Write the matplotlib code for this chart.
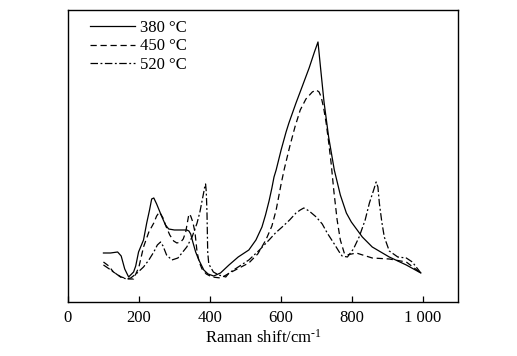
import matplotlib
matplotlib.use("Agg")
import matplotlib.pyplot as plt

plt.rcParams['font.family'] = ['Liberation Serif', 'DejaVu Serif']
plt.rcParams['mathtext.fontset'] = 'custom'
plt.rcParams['mathtext.rm'] = 'Liberation Serif'
plt.rcParams['mathtext.it'] = 'Liberation Serif:italic'

# Raman shift (cm^-1) and intensity (a.u.)
x380 = [100, 120, 140, 150, 160, 171, 185, 191, 199, 213, 222, 230, 236, 242, 250, 265, 275, 284,
        300, 321, 335, 341, 346, 352, 360, 369, 383, 395, 411, 430, 454, 480, 510, 530, 547, 557,
        567, 575, 581, 587, 601, 615, 623, 643, 660, 680, 695, 705, 712, 722, 735, 751, 768, 785,
        799, 830, 858, 906, 954, 995]
y380 = [49, 49, 50, 46, 33, 25, 30, 36, 50, 62, 79, 92, 103, 104, 98, 85, 77, 73, 72, 72, 72, 71,
        68, 60, 50, 42, 32, 28, 26, 29, 37, 45, 52, 62, 75, 87, 101, 114, 125, 132, 152, 170, 179,
        199, 215, 234, 250, 260, 235, 200, 165, 132, 107, 89, 80, 65, 55, 45, 37, 29]

x450 = [100, 115, 128, 150, 171, 185, 200, 213, 228, 242, 250, 258, 268, 276, 287, 298, 307, 318,
        325, 332, 341, 346, 352, 358, 364, 370, 378, 390, 406, 431, 461, 510, 535, 558, 575, 587,
        601, 610, 625, 640, 655, 671, 689, 700, 708, 714, 721, 728, 735, 742, 750, 759, 768, 779,
        785, 800, 813, 858, 906, 954, 995]
y450 = [40, 36, 30, 25, 23, 23, 35, 55, 70, 79, 86, 90, 84, 76, 67, 61, 59, 60, 63, 70, 88, 86,
        80, 70, 50, 40, 33, 28, 25, 24, 30, 39, 48, 62, 76, 92, 118, 133, 155, 175, 192, 203, 210,
        212, 210, 205, 194, 179, 160, 139, 110, 82, 62, 49, 47, 48, 49, 44, 43, 40, 29]

x520 = [100, 125, 148, 165, 177, 195, 213, 228, 242, 252, 261, 268, 278, 293, 310, 335, 350, 364,
        372, 378, 383, 386, 388, 390, 392, 394, 397, 410, 425, 445, 454, 480, 510, 540, 567, 585,
        604, 625, 643, 655, 665, 680, 700, 717, 731, 751, 765, 773, 788, 805, 821, 838, 850, 862,
        869, 874, 878, 885, 892, 906, 930, 954, 971, 995]
y520 = [37, 31, 25, 23, 24, 29, 35, 42, 50, 57, 60, 56, 47, 42, 44, 55, 65, 79, 90, 101, 110, 116,
        118, 110, 89, 50, 38, 30, 27, 25, 29, 35, 42, 52, 62, 69, 75, 82, 89, 92, 94, 91, 85, 78,
        69, 58, 50, 46, 45, 53, 65, 82, 99, 112, 120, 115, 99, 80, 65, 51, 45, 44, 40, 29]

labels = ['380 \u00b0C', '450 \u00b0C', '520 \u00b0C']
xticks = [0, 200, 400, 600, 800, 1000]
xticklabels = ['0', '200', '400', '600', '800', '1 000']

fig = plt.figure(figsize=(5.17, 3.56), dpi=100)
ax = fig.add_axes([0.1315, 0.1517, 0.7545, 0.8203])

lw = 0.9
ax.plot(x380, y380, color='black', lw=lw, linestyle='-', label=labels[0])
ax.plot(x450, y450, color='black', lw=lw, linestyle=(0, (5, 3)), label=labels[1])
ax.plot(x520, y520, color='black', lw=lw, linestyle=(0, (6, 2, 1.5, 2)), label=labels[2])

ax.set_xlim(0, 1100)
ax.set_ylim(0, 292)
ax.set_xticks(xticks)
ax.set_xticklabels(xticklabels, fontsize=12)
ax.set_yticks([])
ax.tick_params(axis='x', direction='in', length=4, width=0.9, top=False, pad=6)
for s in ax.spines.values():
    s.set_linewidth(1.0)

ax.set_xlabel(r'Raman shift/cm$^{\text{-1}}$', fontsize=12, labelpad=2)

leg = ax.legend(loc='upper left', frameon=False, fontsize=12, handlelength=2.7,
                handletextpad=0.3, labelspacing=0.15, borderaxespad=0.2,
                bbox_to_anchor=(0.03, 1.0))

fig.savefig('out.png', dpi=100)
